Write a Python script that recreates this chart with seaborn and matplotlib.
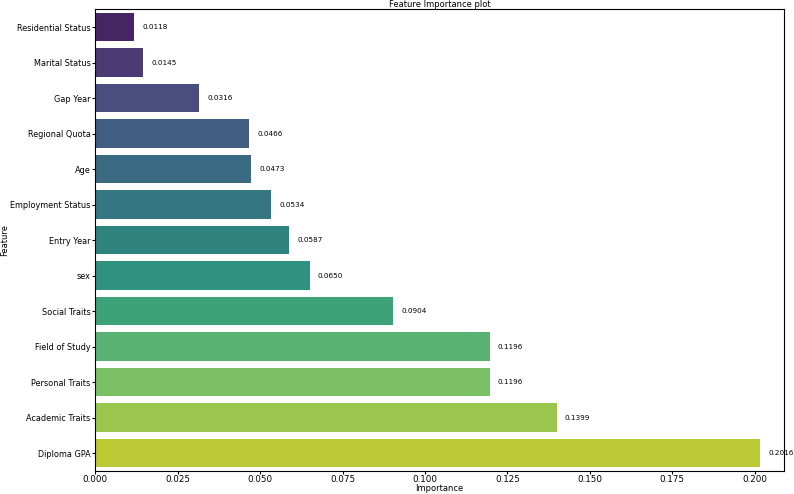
import matplotlib
matplotlib.use("Agg")
import matplotlib.pyplot as plt
import seaborn as sns
import pandas as pd

features = ["Residential Status", "Marital Status", "Gap Year", "Regional Quota", "Age",
            "Employment Status", "Entry Year", "sex", "Social Traits", "Field of Study",
            "Personal Traits", "Academic Traits", "Diploma GPA"]
importance = [0.0118, 0.0145, 0.0316, 0.0466, 0.0473, 0.0534, 0.0587, 0.0650,
              0.0904, 0.1196, 0.1196, 0.1399, 0.2016]

df = pd.DataFrame({"Feature": features, "Importance": importance})

fig, ax = plt.subplots(figsize=(7.94, 4.94), dpi=100)
sns.barplot(data=df, x="Importance", y="Feature", hue="Feature", palette="viridis",
            legend=False, ax=ax)

for c in ax.containers:
    ax.bar_label(c, fmt="%.4f", padding=6, fontsize=5.2)

ax.set_xlim(0, 0.2088)
ax.set_title("Feature Importance plot", fontsize=6, pad=2)
ax.set_xlabel("Importance", fontsize=6, labelpad=0)
ax.set_ylabel("Feature", fontsize=6, labelpad=1)
ax.tick_params(axis="y", labelsize=5.9, length=2.5, pad=0.8)
ax.tick_params(axis="x", labelsize=6.3, length=2.5, pad=0.8)

fig.subplots_adjust(left=0.12, right=0.987, top=0.981, bottom=0.047)
fig.savefig("out.png", dpi=100)
